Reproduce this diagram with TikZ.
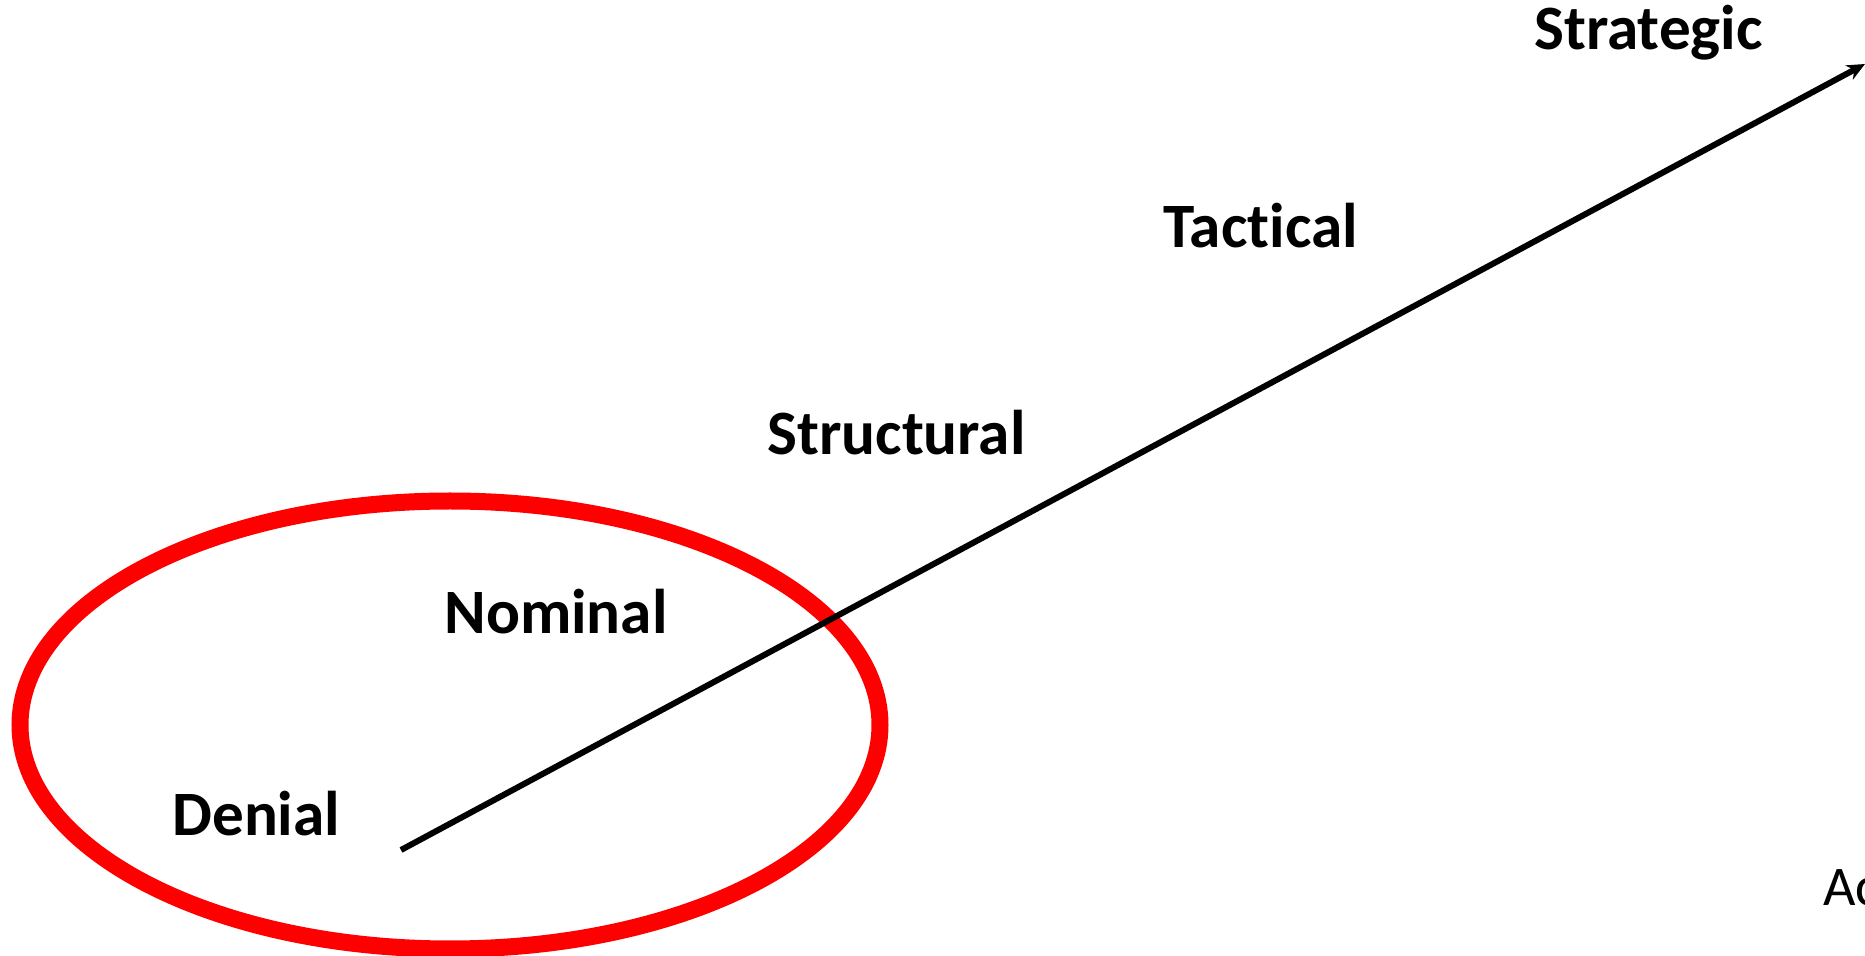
\documentclass[tikz,border=0pt]{standalone}
\usepackage{fontspec}
\setmainfont{Carlito}[Ligatures={NoCommon}]
\usetikzlibrary{arrows.meta}
\tikzset{
  stage/.style = {anchor=base west, inner sep=0, font=\fontsize{31.6}{36}\selectfont\bfseries}
}
\begin{document}
\begin{tikzpicture}[x=0.5pt, y=-0.5pt]
\useasboundingbox (0,0) rectangle (1865,956);
\draw[red, line width = 8.5] (450,725) ellipse [x radius=430, y radius=224];
\coordinate (start) at (401,850);
\coordinate (tip) at (1865,64);
\draw[-{Stealth[length=9pt, width=8pt]}, line width = 3] (start) -- (tip);
\node (denial) at (172,836) [stage] {Denial};
\node (nominal) at (444,634) [stage] {Nominal};
\node (structural) at (767,455) [stage] {Structural};
\node (tactical) at (1163,248) [stage] {Tactical};
\node (strategic) at (1534,50) [stage] {Strategic};
\node (axis) at (1823,906) [anchor=base west, inner sep=0, font=\fontsize{28}{33}\selectfont] {Ac};
\end{tikzpicture}
\end{document}
